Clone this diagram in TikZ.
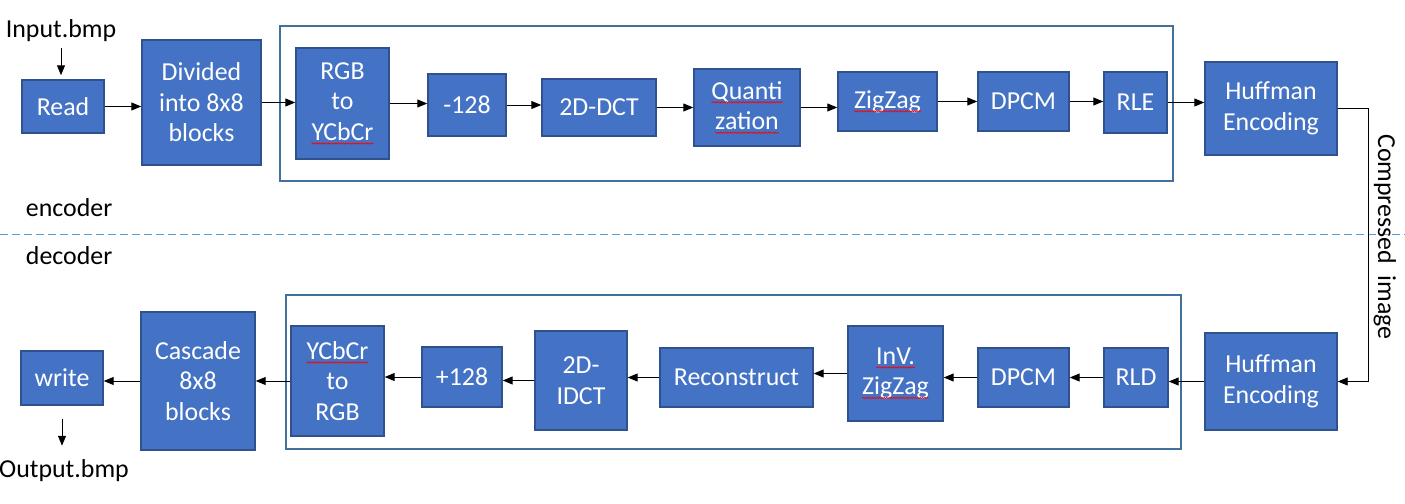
\documentclass[tikz,border=0pt]{standalone}
\usepackage{fontspec}
\setmainfont{Carlito}
\usetikzlibrary{arrows.meta, decorations.pathmorphing}

\definecolor{blockBlue}{HTML}{4472C4}
\definecolor{blockEdge}{HTML}{2F528F}
\definecolor{frameBlue}{HTML}{41719C}
\definecolor{dashBlue}{HTML}{5B9BD5}

\newcommand{\typo}[1]{%
  \tikz[baseline=(word.base)]{%
    \node[inner sep=0pt, outer sep=0pt, minimum width=0pt, minimum height=0pt,
          draw=none, fill=none] (word) {#1};%
    \draw[red, line width=0.45pt, fill=none, decorate,
          decoration={snake, amplitude=0.45pt, segment length=1.7pt}]
      ([yshift=-2.2pt]word.base west) -- ([yshift=-2.2pt]word.base east);%
  }%
}

\begin{document}
\begin{tikzpicture}[
    x=0.025cm, y=-0.025cm,
    every node/.style={font=\fontsize{18.4}{21.7}\selectfont},
    block/.style={draw=blockEdge, line width=1pt, fill=blockBlue,
                  text=white, align=center, inner sep=0pt},
    wh/.style 2 args={minimum width=#1cm, minimum height=#2cm},
    frame/.style={draw=frameBlue, line width=1.3pt},
    arr/.style={-{Triangle[length=0.25cm, width=0.2cm]}, line width=0.7pt}
  ]
  \useasboundingbox (0,0) rectangle (1405,504);

  % Frames
  \draw[frame] (280,26) rectangle (1173,181);
  \draw[frame] (286,295) rectangle (1181,449);

  % Separator
  \draw[dashBlue, line width=0.7pt, dash pattern=on 0.2cm off 0.1cm]
    (0,234) -- (1405,234);
  \node[anchor=base west] (enc) at (21,217) {encoder};
  \node[anchor=base west] (dec) at (21,264) {decoder};

  % ENCODER
  \node[anchor=base, inner sep=0pt] (input) at (61,38) {Input.bmp};
  \node[block, wh={2.05}{1.325}] (read) at (63,106.5) {Read};
  \node[block, wh={2.975}{3.125}] (divide) at (201.5,102.5)
    {Divided\\into 8x8\\blocks};
  \node[block, wh={2.325}{2.775}] (rgb) at (342.5,103.5)
    {RGB\\to\\\typo{YCbCr}};
  \node[block, wh={1.95}{1.55}] (sub) at (467,105) {-128};
  \node[block, wh={2.85}{1.425}] (dct) at (599,107.5) {2D-DCT};
  \node[block, wh={2.65}{1.925}] (quant) at (747,107.5)
    {\typo{Quanti}\\\typo{zation}};
  \node[block, wh={2.475}{1.475}] (zz) at (887.5,101.5) {\typo{ZigZag}};
  \node[block, wh={2.275}{1.475}] (dpcm) at (1023.5,101.5) {DPCM};
  \node[block, wh={1.575}{1.525}] (rle) at (1135.5,102.5) {RLE};
  \node[block, wh={3.3}{2.325}] (huff) at (1271,108.5) {Huffman\\Encoding};

  \draw[arr, shorten <=0.15cm, shorten >=0.1cm]
    (input.south) -- (input.south |- read.north);
  \draw[arr] (read) -- (read -| divide.west);
  \draw[arr] (divide) -- (divide -| rgb.west);
  \draw[arr] (rgb) -- (rgb -| sub.west);
  \draw[arr] (sub) -- (sub -| dct.west);
  \draw[arr] (dct) -- (dct -| quant.west);
  \draw[arr] (quant) -- (quant -| zz.west);
  \draw[arr] (zz) -- (zz -| dpcm.west);
  \draw[arr] (dpcm) -- (dpcm -| rle.west);
  \draw[arr] (rle) -- (rle -| huff.west);

  % DECODER
  \node[block, wh={3.3}{2.425}] (huff2) at (1271,381.5) {Huffman\\Encoding};
  \node[block, wh={1.6}{1.475}] (rld) at (1136,377.5) {RLD};
  \node[block, wh={2.275}{1.475}] (dpcm2) at (1023.5,377.5) {DPCM};
  \node[block, wh={2.375}{2.375}] (izz) at (895.5,373.5)
    {\typo{InV.}\\\typo{ZigZag}};
  \node[block, wh={3.825}{1.475}] (recon) at (736.5,377.5) {Reconstruct};
  \node[block, wh={2.3}{2.475}] (idct) at (581,380.5) {2D-\\IDCT};
  \node[block, wh={2.0}{1.5}] (add) at (462,377) {+128};
  \node[block, wh={2.325}{2.75}] (ycc) at (337.5,381)
    {\typo{YCbCr}\\to\\RGB};
  \node[block, wh={2.85}{3.45}] (cascade) at (198,381)
    {Cascade\\8x8\\blocks};
  \node[block, wh={2.05}{1.35}] (write) at (62,378) {write};
  \node[anchor=base, inner sep=0pt] (output) at (64,477) {Output.bmp};

  \draw[arr] (huff2) -- (huff2 -| rld.east);
  \draw[arr] (rld) -- (rld -| dpcm2.east);
  \draw[arr] (dpcm2) -- (dpcm2 -| izz.east);
  \draw[arr] (izz) -- (izz -| recon.east);
  \draw[arr] (recon) -- (recon -| idct.east);
  \draw[arr] (idct) -- (idct -| add.east);
  \draw[arr] (add) -- (add -| ycc.east);
  \draw[arr] (ycc) -- (ycc -| cascade.east);
  \draw[arr] (cascade) -- (cascade -| write.east);
  \draw[arr, shorten <=0.325cm, shorten >=0.325cm]
    (write.south) -- (write.south |- output.north);

  % Compressed image link
  \coordinate (bend) at (1368,0);
  \draw[arr] (huff) -- (huff -| bend) -- (huff2 -| bend) -- (huff2);
  \node[rotate=-90, anchor=base] (link) at (1378,237) {Compressed~~image};
\end{tikzpicture}
\end{document}
